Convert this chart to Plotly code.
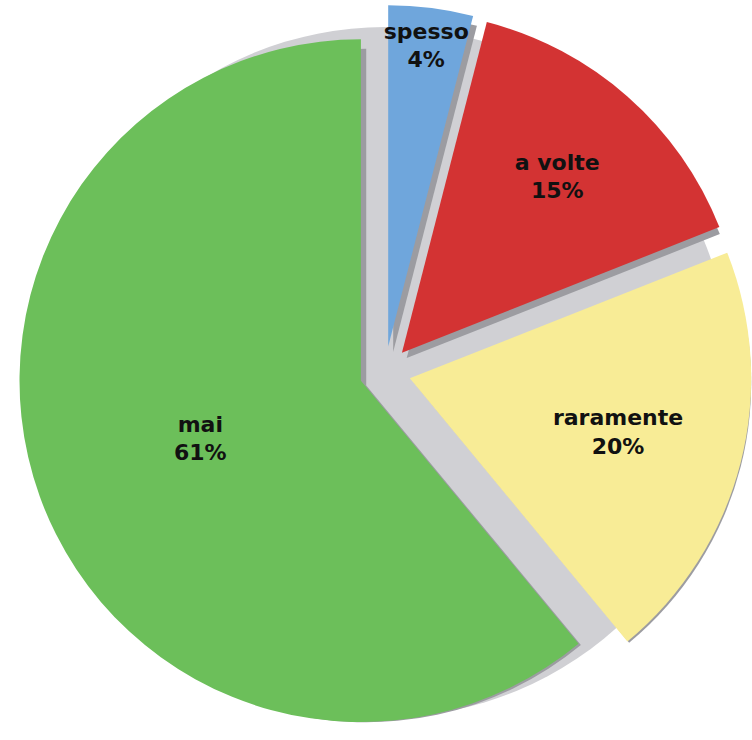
"""
Torta esplosa con ombra
"""
import plotly.graph_objects as go

# dati
labels = ['spesso', 'a volte', 'raramente', 'mai']
values = [4, 15, 20, 61]
colors = ['#6FA6DC', '#D33333', '#F8EC96', '#6CBF5A']

pull = 0.075
W, H = 752, 740


def dom(cx, cy, half):
    # dominio (frazioni della figura) da centro e semi-lato in pixel
    return dict(x=[(cx - half) / W, (cx + half) / W],
                y=[(H - cy - half) / H, (H - cy + half) / H])


fig = go.Figure()

# fondo grigio che riempie gli spazi tra le fette
fig.add_trace(go.Pie(
    labels=['fondo'],
    values=[1],
    sort=False,
    marker=dict(colors=['#D0D0D4'], line=dict(width=0)),
    textinfo='none',
    hoverinfo='skip',
    showlegend=False,
    domain=dom(385, 372, 345)
))

# ombra: stessa torta, spostata in basso a destra
fig.add_trace(go.Pie(
    labels=labels,
    values=values,
    sort=False,
    direction='clockwise',
    rotation=0,
    pull=[pull] * len(values),
    marker=dict(colors=['#9C9CA1'] * len(values), line=dict(width=0)),
    textinfo='none',
    hoverinfo='skip',
    showlegend=False,
    domain=dom(390, 377, 362)
))

# torta principale
fig.add_trace(go.Pie(
    labels=labels,
    values=values,
    sort=False,
    direction='clockwise',
    rotation=0,
    pull=[pull] * len(values),
    marker=dict(colors=colors, line=dict(width=0)),
    texttemplate='%{label}<br>%{value}%',
    textposition='inside',
    insidetextorientation='horizontal',
    textfont=dict(family='DejaVu Sans', size=22, color='#111111', weight='bold'),
    hoverinfo='label+percent',
    showlegend=False,
    domain=dom(385, 372, 367)
))

fig.update_layout(
    width=W,
    height=H,
    margin=dict(l=0, r=0, t=0, b=0),
    paper_bgcolor='white',
    plot_bgcolor='white',
    uniformtext=dict(minsize=22, mode='show'),
    showlegend=False
)

# niente margine del body, così la figura occupa tutta la finestra
fig.write_html("out.html", config={'displayModeBar': False},
               post_script="document.body.style.margin='0';")
